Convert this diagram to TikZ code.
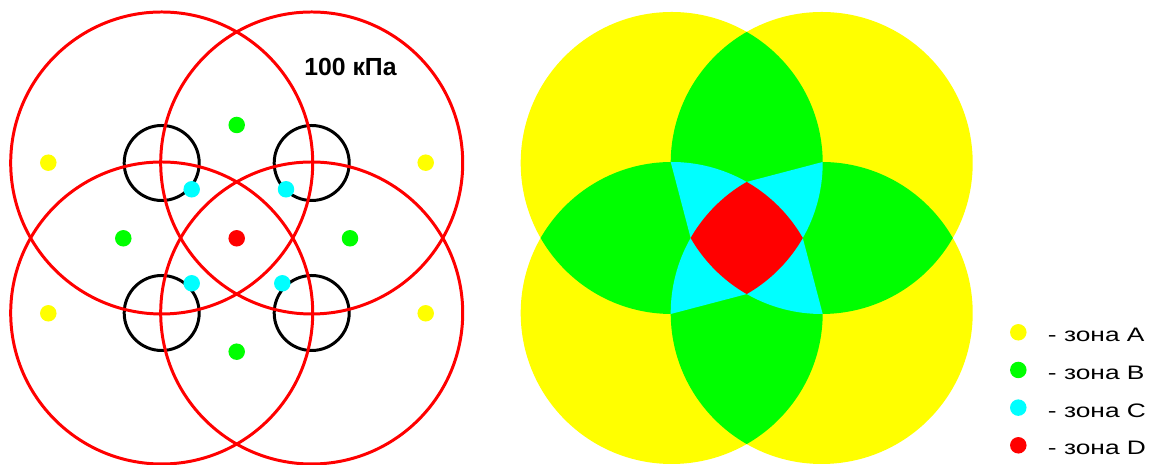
\documentclass[tikz,border=0pt]{standalone}
\usepackage{fontspec}
\setmainfont{Liberation Sans}
\definecolor{zoneA}{RGB}{255,255,0}
\definecolor{zoneB}{RGB}{0,255,0}
\definecolor{zoneC}{RGB}{0,255,255}
\definecolor{zoneD}{RGB}{255,0,0}

\begin{document}
\begin{tikzpicture}[x=0.02cm,y=0.02cm,
  ring/.style={line width=1.7pt},
  zdot/.style={circle,fill=#1,inner sep=0pt,minimum size=0.33cm},
  keytext/.style={anchor=base west,inner sep=0pt,xscale=1.35,
    font=\fontsize{11.1}{13}\selectfont}]
\useasboundingbox (0,0) rectangle (1149,465);
% left: pressure rings around the four supports
\begin{scope}[shift={(236.7,227)}]
\foreach \sx/\sy in {-75/75,75/75,-75/-75,75/-75}
  \draw[ring,black] (\sx,\sy) circle (37.5);
\foreach \sx/\sy in {-75/75,75/75,-75/-75,75/-75}
  \draw[ring,zoneD] (\sx,\sy) circle (151);
\end{scope}
\node[anchor=base,inner sep=0pt,font=\bfseries\fontsize{14.1}{16}\selectfont]
  (kpa) at (350.5,389) {100 кПа};
\node[zdot=zoneA] (ya1) at (48.3,302.3) {};
\node[zdot=zoneA] (ya2) at (425.7,302.3) {};
\node[zdot=zoneA] (ya3) at (48.3,151.7) {};
\node[zdot=zoneA] (ya4) at (425.7,151.7) {};
\node[zdot=zoneB] (gb1) at (236.7,340) {};
\node[zdot=zoneB] (gb2) at (123.3,226.7) {};
\node[zdot=zoneB] (gb3) at (350,226.7) {};
\node[zdot=zoneB] (gb4) at (236.7,113.3) {};
\node[zdot=zoneC] (cc1) at (191.7,275.7) {};
\node[zdot=zoneC] (cc2) at (286,275.7) {};
\node[zdot=zoneC] (cc3) at (191.7,181.7) {};
\node[zdot=zoneC] (cc4) at (282.3,181.7) {};
\node[zdot=zoneD] (rd) at (236.7,226.7) {};
% right: zones
\begin{scope}[shift={(746.7,227)}]
\foreach \sx/\sy in {-75/75,75/75,-75/-75,75/-75}
  \fill[zoneA] (\sx,\sy) circle (151);
\begin{scope}
  \clip (-75,75) circle (151);
  \fill[zoneB] (75,75) circle (151);
  \fill[zoneB] (-75,-75) circle (151);
\end{scope}
\begin{scope}
  \clip (75,-75) circle (151);
  \fill[zoneB] (75,75) circle (151);
  \fill[zoneB] (-75,-75) circle (151);
\end{scope}
\foreach \a in {0,90,180,270}
  \fill[zoneC,rotate=\a] (-76,76) arc[start angle=90.38,end angle=60.22,radius=151]
    -- (-56.06,0) -- cycle;
\begin{scope}
  \clip (-75,75) circle (151);
  \clip (75,75) circle (151);
  \clip (-75,-75) circle (151);
  \fill[zoneD] (75,-75) circle (151);
\end{scope}
\end{scope}
% legend
\foreach \c/\z [count=\i] in {zoneA/A,zoneB/B,zoneC/C,zoneD/D}{
  \node[zdot=\c] (key\z) at (1018.3,{132.7-37.67*(\i-1)}) {};
  \node[keytext] (lab\z) at (1047.5,{123.3-37.67*(\i-1)}) {- зона \z};
}
\end{tikzpicture}
\end{document}
